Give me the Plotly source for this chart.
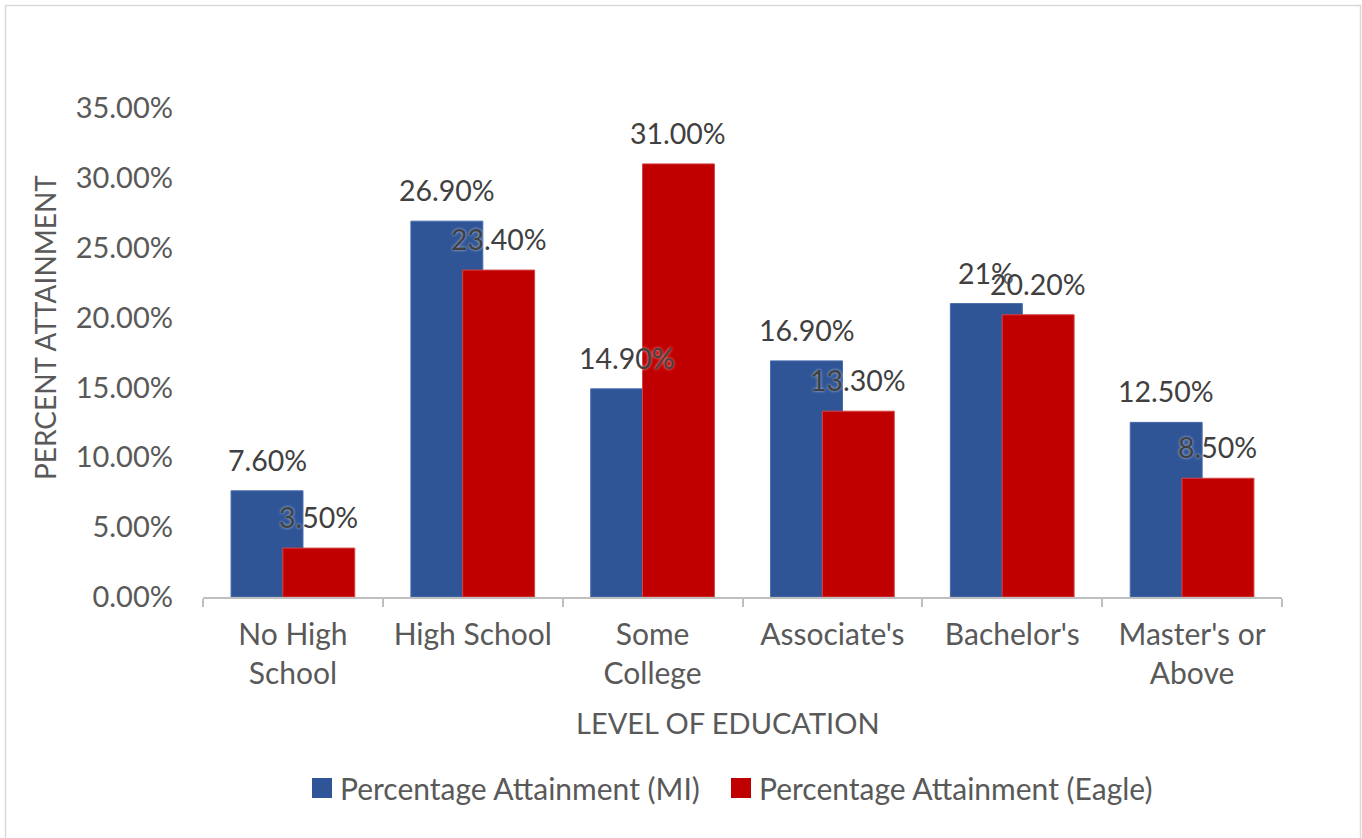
import plotly.graph_objects as go

# Educational attainment, Michigan vs. Eagle
categories = ["No High<br>School", "High School", "Some<br>College",
              "Associate's", "Bachelor's", "Master's or<br>Above"]
mi_values = [7.6, 26.9, 14.9, 16.9, 21.0, 12.5]
eagle_values = [3.5, 23.4, 31.0, 13.3, 20.2, 8.5]
series_names = ["Percentage Attainment (MI)", "Percentage Attainment (Eagle)"]

mi_labels = [f"{v:.2f}%" for v in mi_values]
mi_labels[4] = "21%"
eagle_labels = [f"{v:.2f}%" for v in eagle_values]

y_ticks = [0, 5, 10, 15, 20, 25, 30, 35]
y_tick_text = [f"{t:.2f}%" for t in y_ticks]

BLUE = "#2F5597"
RED = "#C00000"
FONT = "Lato, 'Open Sans', sans-serif"
BAR_W = 0.4
MI_OFF = -0.344
EAGLE_OFF = -0.056

# plot-area geometry in pixels, used to convert to paper coordinates
L, R, T, B = 203, 80, 108, 241
W, H = 1362, 838
PW, PH = W - L - R, H - T - B


def px(x):
    return (x - L) / PW


def py(y):
    return (H - B - y) / PH


fig = go.Figure()
fig.add_trace(go.Bar(
    name=series_names[0], x=categories, y=mi_values,
    marker=dict(color=BLUE, line=dict(color="#4A6CAB", width=1)),
    width=BAR_W, offset=MI_OFF, showlegend=False,
))
fig.add_trace(go.Bar(
    name=series_names[1], x=categories, y=eagle_values,
    marker=dict(color=RED, line=dict(color="#D64545", width=1)),
    width=BAR_W, offset=EAGLE_OFF, showlegend=False,
))

label_font = dict(family=FONT, size=28.5, color="#404040",
                  shadow="0px 0px 3px rgba(255,255,255,0.7)")
annotations = []
for values, labels, off in ((mi_values, mi_labels, MI_OFF),
                            (eagle_values, eagle_labels, EAGLE_OFF)):
    for i, (v, t) in enumerate(zip(values, labels)):
        annotations.append(dict(x=i + off + BAR_W / 2, y=v, text=t, xref="x", yref="y",
                                showarrow=False, yanchor="middle", yshift=31,
                                font=label_font))

# axis titles
title_font = dict(family=FONT, size=29, color="#595959")
annotations.append(dict(text="LEVEL OF EDUCATION", xref="paper", yref="paper",
                        x=px(728), y=py(722), showarrow=False,
                        xanchor="center", yanchor="middle", font=title_font))
annotations.append(dict(text="PERCENT ATTAINMENT", xref="paper", yref="paper",
                        x=px(45), y=py(328), showarrow=False, textangle=-90,
                        xanchor="center", yanchor="middle",
                        font=dict(family=FONT, size=28, color="#595959")))

# legend: colour swatches with series names
legend_font = dict(family=FONT, size=30, color="#595959")
shapes = []
for name, color, sx in ((series_names[0], BLUE, 312), (series_names[1], RED, 731)):
    shapes.append(dict(type="rect", xref="paper", yref="paper",
                       x0=px(sx), x1=px(sx + 20), y0=py(798), y1=py(778),
                       fillcolor=color, line=dict(width=0)))
    annotations.append(dict(text=name, xref="paper", yref="paper", x=px(sx + 26),
                            y=py(788), xanchor="left", yanchor="middle",
                            showarrow=False, font=legend_font))

# chart frame
shapes.append(dict(type="rect", xref="paper", yref="paper",
                   x0=px(5.5), x1=px(1360.5), y0=py(845), y1=py(5.5),
                   line=dict(color="#D9D9D9", width=1.5), layer="below"))

fig.update_layout(
    width=W, height=H,
    margin=dict(l=L, r=R, t=T, b=B),
    paper_bgcolor="white", plot_bgcolor="white",
    barmode="overlay",
    font=dict(family=FONT, size=28, color="#595959"),
    annotations=annotations,
    shapes=shapes,
    showlegend=False,
)
fig.update_xaxes(type="category", showline=True, linecolor="#BFBFBF", linewidth=1.5,
                 ticks="outside", tickson="boundaries", ticklen=8, tickcolor="#BFBFBF",
                 tickwidth=1.5, showgrid=False, range=[-0.5, 5.5], ticklabelstandoff=10,
                 tickfont=dict(family=FONT, size=30, color="#595959"))
fig.update_yaxes(range=[0, 35], tickvals=y_ticks, ticktext=y_tick_text, showgrid=False,
                 zeroline=False, showline=False, ticks="", ticklabelstandoff=29,
                 tickfont=dict(family=FONT, size=29, color="#595959"))

fig.write_html("out.html")
